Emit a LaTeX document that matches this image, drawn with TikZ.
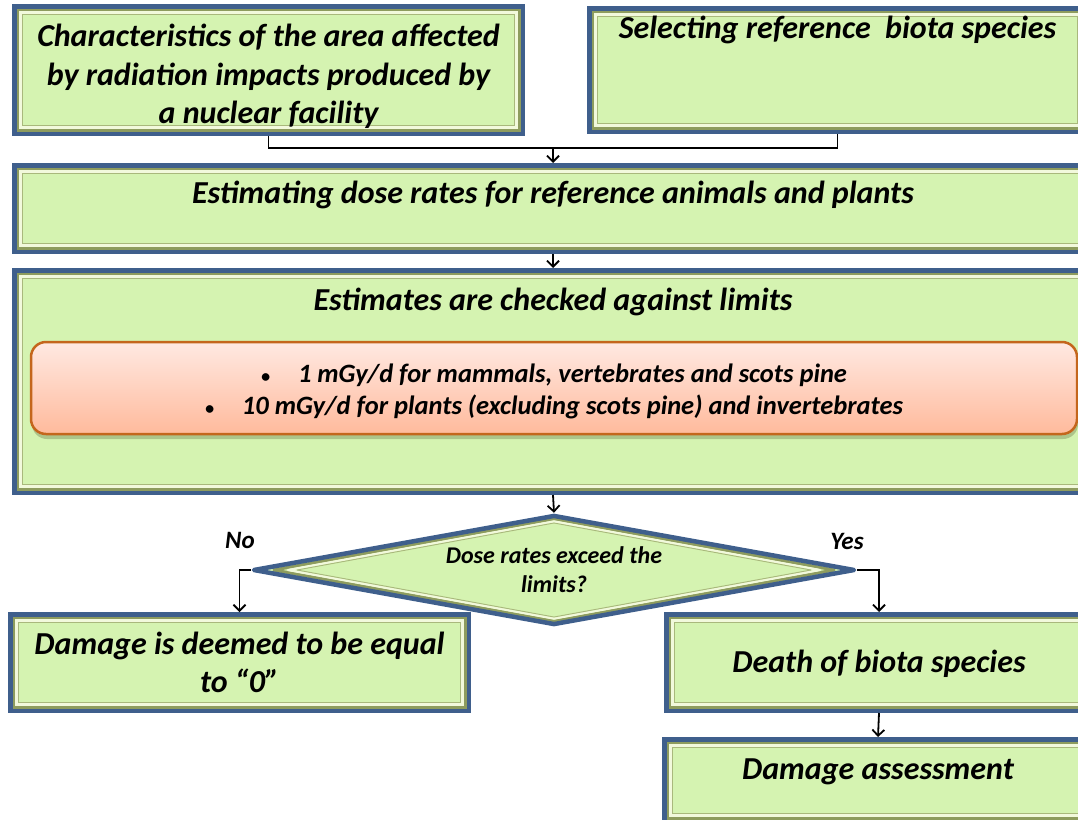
\documentclass[tikz,border=0pt]{standalone}
\usepackage{fontspec}
\setmainfont{Carlito}
\usetikzlibrary{shapes.geometric,arrows.meta,calc,shadows}

\definecolor{frameblue}{HTML}{3F5F8C}
\definecolor{boxgreen}{HTML}{D5F3B1}
\definecolor{bevdark}{HTML}{8E9C5E}
\definecolor{bevlight}{HTML}{F2F9DC}
\definecolor{bevmid}{HTML}{A9B87C}
\definecolor{peachtop}{HTML}{FFE9E2}
\definecolor{peachbot}{HTML}{FFBA9C}
\definecolor{peachline}{HTML}{C4661C}

% one ring of the bevelled frame, inset #3 from the node border
\newcommand\bevring[3]{%
  \draw[#1, line width=#2]
    ([shift={(#3,-#3)}]path picture bounding box.north west) rectangle
    ([shift={(-#3,#3)}]path picture bounding box.south east);}
% one ring of the bevelled diamond, half sizes #3 x #4
\newcommand\diaring[4]{%
  \draw[#1, line width=#2, line join=round]
    ([xshift=-#3]path picture bounding box.center) --
    ([yshift=#4]path picture bounding box.center) --
    ([xshift=#3]path picture bounding box.center) --
    ([yshift=-#4]path picture bounding box.center) -- cycle;}
% small list bullet
\newcommand\listdot{{\fontsize{18}{18}\selectfont\textbullet}}

\tikzset{
  x=1pt, y=-1pt,
  txt/.style={font=\bfseries\itshape\fontsize{32}{38.5}\selectfont, align=center},
  framed/.style={rectangle, draw=frameblue, line width=4.5pt, fill=boxgreen,
    inner sep=0pt, txt,
    path picture={
      \bevring{bevdark}{3pt}{3.75pt}
      \bevring{bevlight}{2.2pt}{6.3pt}
      \bevring{bevmid}{0.9pt}{7.9pt}
    }},
  shiftup/.style={text height=18pt, text depth=#1},
  decision/.style={diamond, aspect=5.47, draw=frameblue, line width=4.5pt, line join=round,
    fill=boxgreen, inner sep=0pt,
    font=\bfseries\itshape\fontsize{24}{29}\selectfont, align=center,
    path picture={
      \diaring{bevdark}{3pt}{280pt}{51.2pt}
      \diaring{bevlight}{2.2pt}{266pt}{48.6pt}
      \diaring{bevmid}{0.9pt}{257pt}{47pt}
    }},
  limits/.style={rectangle, rounded corners=15pt, draw=peachline, line width=2.5pt,
    top color=peachtop, bottom color=peachbot, inner sep=0pt,
    drop shadow={shadow xshift=1pt, shadow yshift=-5pt, opacity=0.35, fill=bevdark!70!black},
    font=\bfseries\itshape\fontsize{26.5}{32}\selectfont, align=center},
  answer/.style={font=\bfseries\itshape\fontsize{25}{28}\selectfont},
  conn/.style={line width=1.8pt, black},
  arr/.style={conn, -{Straight Barb[length=6pt, width=12pt, line width=1.8pt]}}
}

\begin{document}
\begin{tikzpicture}
\useasboundingbox (0,0) rectangle (1078,819);
\clip (0,0) rectangle (1078,819);

% input boxes
\node[framed, text height=113pt, minimum width=508.5pt, minimum height=127.5pt] (area) at (268.5,70)
  {Characteristics of the area affected\\by radiation impacts produced by\\a nuclear facility};
\node[framed, shiftup=82pt, minimum width=496.5pt, minimum height=123.5pt] (biota) at (837.5,70)
  {Selecting reference\ \ biota species};

% dose estimation
\node[framed, shiftup=29pt, minimum width=1077.5pt, minimum height=86.5pt] (dose) at (553,208.5)
  {Estimating dose rates for reference animals and plants};

% comparison with limits
\node[framed, shiftup=161pt, minimum width=1077.5pt, minimum height=222.5pt] (check) at (553,381.5)
  {Estimates are checked against limits};
\node[limits, text height=58pt, minimum width=1046pt, minimum height=92pt] (lim) at (554,388)
  {\listdot\hspace{28pt}1 mGy/d for mammals, vertebrates and scots pine\\
   \listdot\hspace{28pt}10 mGy/d for plants (excluding scots pine) and invertebrates};

% decision
\node[decision, minimum width=602pt, minimum height=110pt] (exceed) at (554,570)
  {Dose rates exceed the\\limits?};

% outcomes
\node[framed, minimum width=458.5pt, minimum height=96.5pt] (zero) at (239.5,662.5)
  {Damage is deemed to be equal\\to “0”};
\node[framed, text height=28pt, text depth=8pt, minimum width=425.5pt, minimum height=96.5pt] (death) at (879,662.5)
  {Death of biota species};
\node[framed, shiftup=21pt, minimum width=427.5pt, minimum height=82.5pt] (assess) at (878,780.5)
  {Damage assessment};

\node[answer] (no) at (240,540) {No};
\node[answer] (yes) at (847,541) {Yes};

% connectors
\coordinate (join) at (553,148);
\draw[conn] (area.south) |- (join) -| (biota.south);
\draw[arr] (join) -- (dose.north);
\draw[arr] (dose.south) -- (check.north);
\draw[arr] (check.south) -- (exceed.north);
\draw[arr] (exceed.west) -| (zero.north);
\draw[arr] (exceed.east) -| (death.north);
\draw[arr] (death.south) -- (assess.north);
\end{tikzpicture}
\end{document}
